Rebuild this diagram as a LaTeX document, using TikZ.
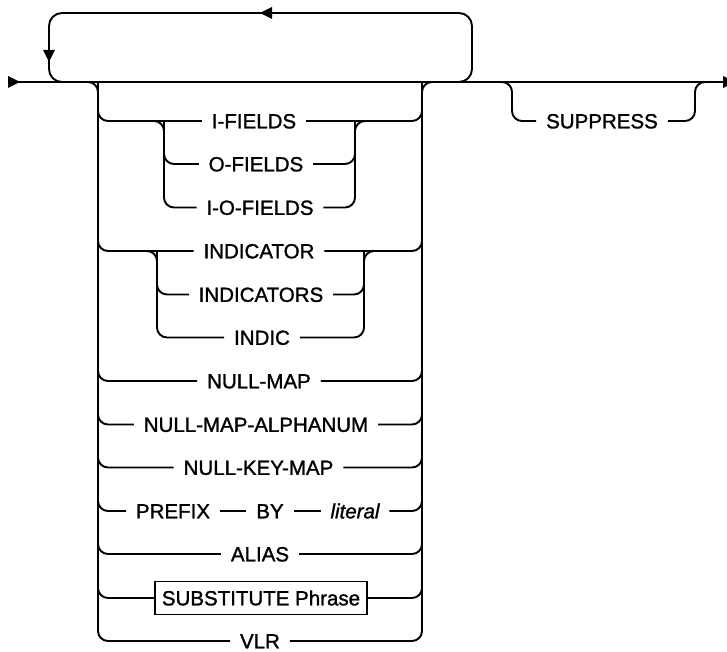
\documentclass[tikz,border=0pt]{standalone}
\usepackage{fontspec}
\setmainfont{Liberation Sans}
\newfontfamily\kwfont{Liberation Sans}[FakeBold=1.3]
\begin{document}
\begin{tikzpicture}[x=1pt,y=-1pt,line width=1.9pt,
  rr/.style={rounded corners=10pt},
  loopline/.style={rounded corners=13pt},
  kw/.style={font=\kwfont\fontsize{20.5}{21}\selectfont, inner xsep=9pt, inner ysep=0pt, text height=14.7pt, text depth=0pt},
  boxkw/.style={kw, draw, line width=1.6pt, minimum height=33pt, inner xsep=7pt}]
\useasboundingbox (0,0) rectangle (727,652);
% main line
\coordinate (start) at (8,82);
\coordinate (finish) at (723,82);
\draw (start) -- (finish);
\fill (20,82) -- (8,76) -- (8,88) -- cycle;
\fill (723,76) -- (735,82) -- (723,88) -- cycle;
% repeat loop
\coordinate (p0) at (446,82);
\coordinate (q1) at (472,13);
\coordinate (q2) at (49,82);
\coordinate (p3) at (75,82);
\draw[loopline] (p0) -| (q1) -| (q2) -- (p3);
\fill (260,13) -- (272,7) -- (272,19) -- cycle;
\fill (49,62) -- (43,50) -- (55,50) -- cycle;
% rail coordinates
\coordinate (lr0) at (80,82);
\coordinate (lr1) at (98,82);
\coordinate (rr1) at (422,82);
\coordinate (rr0) at (440,82);
% nodes
\node[kw] (IF)   at (254,121)   {I-FIELDS};
\node[kw] (OF)   at (256,164)   {O-FIELDS};
\node[kw] (IOF)  at (260,207.5) {I-O-FIELDS};
\node[kw] (IND)  at (259,251)   {INDICATOR};
\node[kw] (INDS) at (261,294.5) {INDICATORS};
\node[kw] (INDC) at (262,337.5) {INDIC};
\node[kw] (NM)   at (259,381)   {NULL-MAP};
\node[kw] (NMA)  at (256,424.5) {NULL-MAP-ALPHANUM};
\node[kw] (NKM)  at (258.5,467.5) {NULL-KEY-MAP};
\node[kw] (PRE)  at (173,511)   {PREFIX};
\node[kw] (BY)   at (270,511)   {BY};
\node[kw] (LIT)  at (355,511)   {\itshape literal};
\node[kw] (ALI)  at (260,554)   {ALIAS};
\node[boxkw] (SUB) at (261,598) {SUBSTITUTE Phrase};
\node[kw] (VLR)  at (260,641)   {VLR};
\node[kw] (SUP)  at (602,121)   {SUPPRESS};
% outer rails
\draw[rr] (lr0) -- (lr1) |- (VLR.west);
\draw[rr] (VLR.east) -| (rr1) -- (rr0);
\foreach \n in {IF,IND,NM,NMA,NKM,PRE,ALI,SUB}{
  \draw[rr] (\n.west) -| (lr1);
}
\foreach \n in {IF,IND,NM,NMA,NKM,LIT,ALI,SUB}{
  \draw[rr] (\n.east) -| (rr1);
}
\draw (PRE.east) -- (BY.west);
\draw (BY.east) -- (LIT.west);
% I-FIELDS group
\coordinate (a1) at (150,121);
\coordinate (a2) at (164,121);
\coordinate (b2) at (355,121);
\coordinate (b1) at (369,121);
\draw[rr] (a1) -- (a2) |- (IOF.west);
\draw[rr] (OF.west) -| (a2);
\draw[rr] (IOF.east) -| (b2) -- (b1);
\draw[rr] (OF.east) -| (b2);
% INDICATOR group
\coordinate (c1) at (143,251);
\coordinate (c2) at (157,251);
\coordinate (d2) at (364,251);
\coordinate (d1) at (378,251);
\draw[rr] (c1) -- (c2) |- (INDC.west);
\draw[rr] (INDS.west) -| (c2);
\draw[rr] (INDC.east) -| (d2) -- (d1);
\draw[rr] (INDS.east) -| (d2);
% SUPPRESS
\coordinate (s1) at (500,82);
\coordinate (s2) at (512,82);
\coordinate (t2) at (695,82);
\coordinate (t1) at (707,82);
\draw[rr] (s1) -- (s2) |- (SUP.west);
\draw[rr] (SUP.east) -| (t2) -- (t1);
\end{tikzpicture}
\end{document}
